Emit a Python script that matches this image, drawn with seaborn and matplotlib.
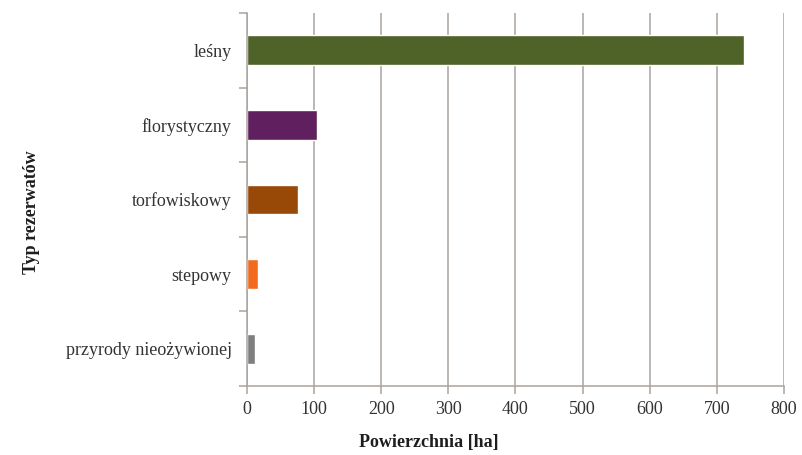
import matplotlib
matplotlib.use("Agg")
import matplotlib.pyplot as plt
import seaborn as sns
import pandas as pd

# Reserve types and their total area in hectares
categories = ["leśny", "florystyczny", "torfowiskowy", "stepowy", "przyrody nieożywionej"]
area_ha = [740, 104, 76, 17, 12]
bar_colors = ["#4f6228", "#60205f", "#984807", "#f26a1e", "#7f7f7f"]
x_ticks = [0, 100, 200, 300, 400, 500, 600, 700, 800]

df = pd.DataFrame({"typ": categories, "powierzchnia": area_ha})

sns.set_theme(style="white")
plt.rcParams["font.family"] = ["Liberation Serif", "DejaVu Serif"]

grid_col = "#aaa39e"
text_col = "#333333"

fig = plt.figure(figsize=(8.03, 4.55), dpi=100)
ax = fig.add_axes([0.3076, 0.1516, 0.6687, 0.8198])

sns.barplot(data=df, x="powierzchnia", y="typ", hue="typ",
            palette=bar_colors, order=categories, hue_order=categories,
            orient="h", width=0.4, legend=False, ax=ax, saturation=1)

ax.set_xlim(0, 800)
ax.set_ylim(len(categories) - 0.5, -0.5)
ax.set_xticks(x_ticks)
ax.set_xticklabels([str(t) for t in x_ticks])

# vertical gridlines only
ax.xaxis.grid(True, color=grid_col, linewidth=1.1)
ax.yaxis.grid(False)
ax.set_axisbelow(True)

for side in ["top", "right"]:
    ax.spines[side].set_visible(False)
for side in ["left", "bottom"]:
    ax.spines[side].set_color(grid_col)
    ax.spines[side].set_linewidth(1.1)

# category separators on the y axis
ax.set_yticks([i - 0.5 for i in range(len(categories) + 1)], minor=True)
ax.tick_params(axis="y", which="minor", length=6, color=grid_col, width=1.1, left=True)
ax.tick_params(axis="y", which="major", length=0, labelsize=13, labelcolor=text_col, pad=11)
ax.tick_params(axis="x", which="major", length=6, color=grid_col, width=1.1, bottom=True,
               labelsize=13, labelcolor=text_col, pad=5)

ax.set_xlabel("")
ax.set_ylabel("")
fig.text(429 / 803, 1 - 443 / 455, "Powierzchnia [ha]", ha="center", va="center",
         fontsize=13, fontweight="bold", color="#1e1e1e")
fig.text(32 / 803, 1 - 212 / 455, "Typ rezerwatów", ha="center", va="center",
         rotation=90, fontsize=13, fontweight="bold", color="#1e1e1e")

fig.savefig("out.png", dpi=100)
